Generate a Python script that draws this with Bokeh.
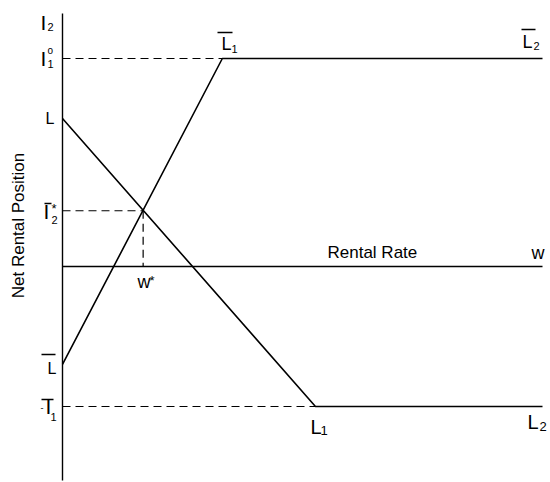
from bokeh.plotting import figure
from bokeh.models import Range1d
from bokeh.embed import file_html
from bokeh.resources import INLINE
from bokeh.core.properties import value
import math

# ---- data (in chart units) ----
rise_x = [0.0, 33.3, 100.0]        # L-bar -> L-bar1 -> L-bar2
rise_y = [-47.1, 100.0, 100.0]
fall_x = [0.0, 52.7, 100.0]        # L -> L1 -> L2
fall_y = [71.2, -67.3, -67.3]
rate_x = [0.0, 100.0]              # rental rate axis
rate_y = [0.0, 0.0]
axis_x = [0.0, 0.0]
axis_y = [121.6, -102.9]
i1_top = 100.0
i1_bottom = -67.3
w_star = 16.8
i2_star = 26.8

FONT = "Liberation Sans"

# page-pixel -> data helpers for label placement
X0, SX = 62.0, 4.8
Y0, SY = 266.0, 2.08
def dx(px):
    return (px - X0) / SX
def dy(py):
    return (Y0 - py) / SY

p = figure(width=550, height=482, output_backend="svg", toolbar_location=None,
           x_range=Range1d(dx(0), dx(550)), y_range=Range1d(dy(482), dy(0)),
           x_axis_type=None, y_axis_type=None, min_border=0)
p.grid.visible = False
p.outline_line_color = None
p.background_fill_color = "white"

# dashed guides
dash = "8 5"
p.line([0, rise_x[1]], [i1_top, i1_top], line_color="black", line_width=1.2, line_dash=dash)
p.line([0, fall_x[1]], [i1_bottom, i1_bottom], line_color="black", line_width=1.2, line_dash=dash)
p.line([0, w_star], [i2_star, i2_star], line_color="black", line_width=1.2, line_dash=dash)
p.line([w_star, w_star], [i2_star, 0], line_color="black", line_width=1.2, line_dash="8 5")

# solid lines
p.line(axis_x, axis_y, line_color="black", line_width=1.4)
p.line(rate_x, rate_y, line_color="black", line_width=1.5)
p.line(rise_x, rise_y, line_color="black", line_width=1.6)
p.line(fall_x, fall_y, line_color="black", line_width=1.6)

# labels: (text, page x, page baseline y, font px)
labels = [
    ("I", 40, 29, 21), ("2", 47, 30, 11),
    ("I", 40, 65, 21), ("o", 47, 53, 10), ("1", 47, 67, 11),
    ("L", 45, 123, 16),
    ("I", 43, 218, 21), ("*", 51, 212, 13), ("2", 51, 223, 11),
    ("L", 47, 373, 16),
    ("-", 40, 410, 9), ("I", 45, 413, 21), ("1", 50, 420, 11),
    ("L", 221, 49, 18), ("1", 231, 52, 11),
    ("L", 522, 47, 18), ("2", 533, 49, 11),
    ("L", 310, 432, 20), ("1", 320, 434, 13),
    ("L", 527, 427, 20), ("2", 539, 430, 13),
    ("Rental Rate", 327, 257, 17),
    ("w", 531, 258, 18),
    ("w", 137, 287, 18), ("*", 149, 284, 13),
]
for t, x, y, s in labels:
    yb = y - round(0.32 * s)   # compensate renderer's baseline placement
    p.text(x=[dx(x)], y=[dy(yb)], text=[t], text_font=value(FONT),
           text_font_size=f"{s}px", text_color="black",
           text_align="left", text_baseline="alphabetic")

p.text(x=[dx(18)], y=[dy(225)], text=["Net Rental Position"], text_font=value(FONT),
       text_font_size="17px", text_color="black", angle=math.pi / 2,
       text_align="center", text_baseline="middle")

# overline bars on labels: (page x0, page x1, page y)
bars = [(44, 51, 203), (41, 55, 354), (41, 53, 399), (217, 232, 32), (521, 535, 29)]
p.segment(x0=[dx(b[0]) for b in bars], y0=[dy(b[2]) for b in bars],
          x1=[dx(b[1]) for b in bars], y1=[dy(b[2]) for b in bars],
          line_color="black", line_width=1.3)

open("out.html", "w").write(file_html(p, INLINE))
